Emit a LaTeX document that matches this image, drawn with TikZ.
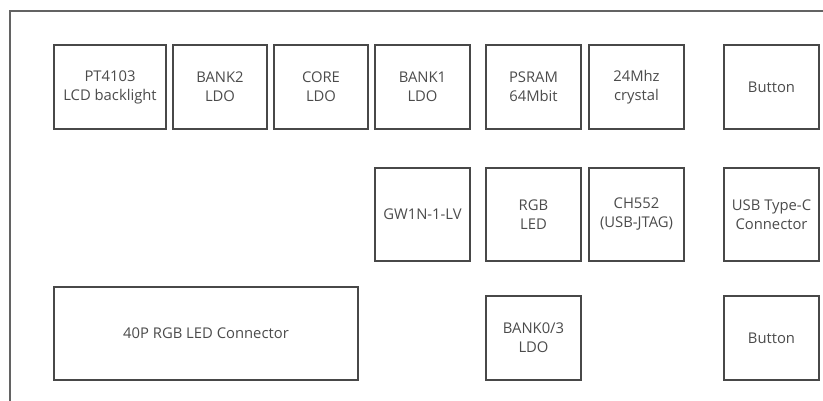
\documentclass[tikz,border=0pt]{standalone}
\usepackage{fontspec}
\setmainfont{Open Sans}
\usetikzlibrary{positioning}
\definecolor{edge}{RGB}{72,72,72}
\definecolor{ink}{RGB}{75,75,75}
\tikzset{
 block/.style={draw=edge, line width=1.3pt, align=center, inner sep=0pt, outer sep=0pt,
               minimum width=95pt, minimum height=84pt, text=ink,
               font=\fontsize{14.8}{19}\selectfont},
 tall/.style={minimum height=93pt},
 frame/.style={draw=edge!85, line width=1.2pt}
}

\begin{document}
\begin{tikzpicture}[x=1pt, y=-1pt, node distance=7pt]
\useasboundingbox (0,0) rectangle (823,401);

\draw[frame] (10,401) -- (10,11) -- (823,11);

% top row
\node[block, minimum width=112pt] (pt4103) at (110,87) {PT4103\\LCD backlight};
\node[block, minimum width=94pt, right=of pt4103] (bank2) {BANK2\\LDO};
\node[block, minimum width=94pt, right=of bank2] (core) {CORE\\LDO};
\node[block, right=of core] (bank1) {BANK1\\LDO};
\node[block, right=16pt of bank1] (psram) {PSRAM\\64Mbit};
\node[block, right=8pt of psram] (xtal) {24Mhz\\crystal};
\node[block, right=40pt of xtal] (button1) {Button};

% middle row
\node[block, tall, below=39pt of bank1] (gw1n) {GW1N-1-LV};
\node[block, tall, below=39pt of psram] (rgbled) {RGB\\LED};
\node[block, tall, below=39pt of xtal] (ch552) {CH552\\(USB-JTAG)};
\node[block, tall, below=39pt of button1] (usbc) {USB Type-C\\Connector};

% bottom row
\node[block, tall, minimum width=304pt, anchor=north west] (conn40p) at ([yshift=-158pt]pt4103.south west) {40P RGB LED Connector};
\node[block, below=35pt of rgbled] (bank03) {BANK0/3\\LDO};
\node[block, below=35pt of usbc] (button2) {Button};

\end{tikzpicture}
\end{document}
